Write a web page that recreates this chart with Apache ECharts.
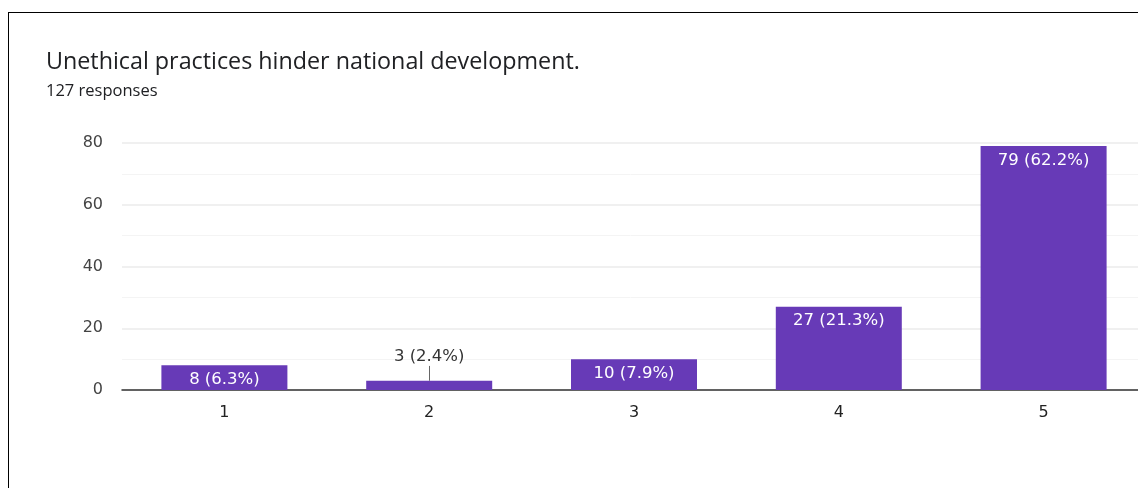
<!DOCTYPE html>
<html>
<head>
<meta charset="utf-8">
<script src="https://cdn.jsdelivr.net/npm/echarts@6/dist/echarts.min.js"></script>
<style>
html, body { margin:0; padding:0; background:#fff; }
#frame { position:absolute; left:8px; top:12px; width:1140px; height:480px; border-top:1.5px solid #000; border-left:1.5px solid #000; }
#chart { position:absolute; left:0; top:0; width:1138px; height:488px; }
</style>
</head>
<body>
<div id="frame"></div>
<div id="chart"></div>
<script>
var categories = ['1', '2', '3', '4', '5'];
var counts = [8, 3, 10, 27, 79];
var percents = ['6.3%', '2.4%', '7.9%', '21.3%', '62.2%'];
var yTicks = [0, 20, 40, 60, 80];

var labelFont = 'DejaVu Sans';
var titleFont = 'Open Sans';
var purple = '#673ab7';

var chart = echarts.init(document.getElementById('chart'));

// small bars get their label above, joined by a short leader line
var leaderLines = [];
var barData = counts.map(function (v, i) {
    var item = { value: v };
    if (v < 5) {
        item.label = { position: 'top', distance: 16, color: '#333' };
        leaderLines.push([
            { coord: [i, v] },
            { coord: [i, v + 4.8] }
        ]);
    }
    return item;
});

var option = {
    animation: false,
    title: [
        {
            text: 'Unethical practices hinder national development.',
            left: 46,
            top: 51,
            padding: 0,
            textStyle: { fontFamily: titleFont, fontSize: 23.3, fontWeight: 'normal', color: '#202124' }
        },
        {
            text: '127 responses',
            left: 46,
            top: 83,
            padding: 0,
            textStyle: { fontFamily: titleFont, fontSize: 16.5, fontWeight: 'normal', color: '#202124' }
        }
    ],
    grid: {
        left: 122,
        top: 143,
        width: 1024,
        height: 247,
        outerBoundsMode: 'none'
    },
    xAxis: {
        type: 'category',
        data: categories,
        axisTick: { show: false },
        axisLine: { lineStyle: { color: '#333', width: 1.5 } },
        axisLabel: { margin: 15, fontFamily: labelFont, fontSize: 16, color: '#222' }
    },
    yAxis: {
        type: 'value',
        min: yTicks[0],
        max: yTicks[yTicks.length - 1],
        interval: 20,
        axisLine: { show: false },
        axisTick: { show: false },
        axisLabel: { margin: 19, fontFamily: labelFont, fontSize: 16, color: '#444' },
        splitLine: { lineStyle: { color: '#ebebeb', width: 1.5 } },
        minorTick: { show: false, splitNumber: 2 },
        minorSplitLine: { show: true, lineStyle: { color: '#f4f4f4', width: 1 } }
    },
    series: [{
        type: 'bar',
        barWidth: 126,
        itemStyle: { color: purple },
        data: barData,
        label: {
            show: true,
            position: 'insideTop',
            distance: 6,
            fontFamily: labelFont,
            fontSize: 16.5,
            color: '#fff',
            formatter: function (p) {
                return p.value + ' (' + percents[p.dataIndex] + ')';
            }
        },
        markLine: {
            silent: true,
            symbol: ['none', 'none'],
            label: { show: false },
            lineStyle: { color: '#666', width: 1, type: 'solid' },
            data: leaderLines
        }
    }]
};

chart.setOption(option);
</script>
</body>
</html>
